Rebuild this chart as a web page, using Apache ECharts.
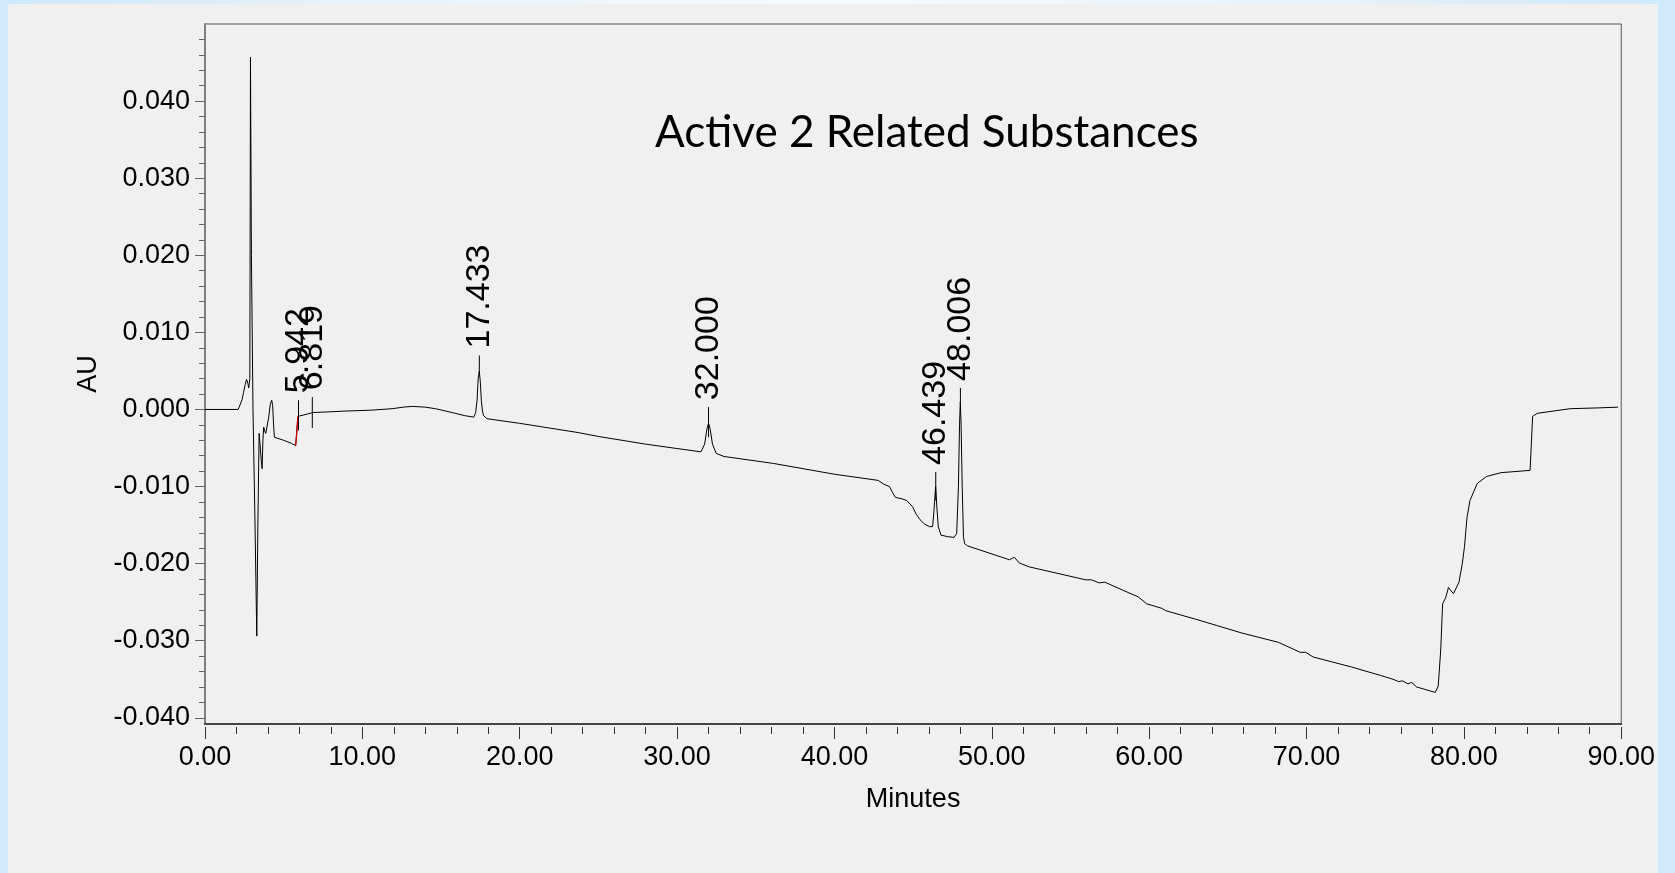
<!DOCTYPE html>
<html>
<head>
<meta charset="utf-8">
<script src="https://cdn.jsdelivr.net/npm/echarts@6/dist/echarts.min.js"></script>
<style>
  html, body { margin: 0; padding: 0; width: 1675px; height: 873px; overflow: hidden; }
  body { background: linear-gradient(to right, #cfe8fb 0%, #e4f2fd 20%, #f6fbff 50%, #e4f2fd 80%, #cfe8fb 100%); }
  #chart { position: absolute; left: 8px; top: 4px; width: 1650px; height: 869px; }
</style>
</head>
<body>
<div id="chart"></div>
<script>
// ---- Data ----
const chartTitle = 'Active 2 Related Substances';
const xAxisName = 'Minutes';
const yAxisName = 'AU';

// Retention time (minutes)
const traceTime = [
  0, 2.1, 2.17, 2.36, 2.45, 2.55, 2.64, 2.72, 2.78, 2.85, 2.89, 2.95, 3.05, 3.18, 3.29,
  3.36, 3.44, 3.5, 3.57, 3.63, 3.68, 3.73, 3.8, 3.86, 3.94, 4.05, 4.15, 4.24, 4.3, 4.36,
  4.41, 4.53, 5.0, 5.5, 5.76, 5.9, 6.0, 6.5, 6.85, 8.0, 9.0, 10.5, 11.9, 12.6, 13.2,
  14.0, 14.65, 15.5, 16.5, 17.08, 17.2, 17.29, 17.36, 17.43, 17.5, 17.56, 17.63, 17.71, 17.92, 20.0,
  23.72, 25.0, 28.0, 31.52, 31.75, 31.9, 32.0, 32.1, 32.25, 32.49, 32.98, 36.12, 40.0, 42.78, 43.14,
  43.5, 43.7, 43.87, 44.3, 44.59, 44.96, 45.2, 45.44, 45.75, 46.05, 46.24, 46.33, 46.43, 46.52, 46.6,
  46.77, 47.2, 47.6, 47.77, 47.88, 47.95, 48.0, 48.05, 48.12, 48.2, 48.27, 48.46, 51.13, 51.3, 51.45,
  51.74, 52.34, 55.97, 56.34, 56.83, 57.18, 58.39, 59.3, 59.84, 60.81, 61.05, 62.94, 64.26, 65.89, 68.21,
  69.6, 69.95, 70.41, 72.85, 74.7, 75.5, 75.86, 76.1, 76.45, 76.67, 77.0, 78.18, 78.37, 78.53, 78.65,
  78.83, 79.02, 79.34, 79.69, 79.9, 80.04, 80.2, 80.39, 80.85, 81.43, 82.36, 84.21, 84.3, 84.37, 84.66,
  86.76, 88.5, 89.8
];
// Absorbance (AU)
const traceAU = [
  0, 0, 0.0003, 0.0013, 0.0022, 0.0032, 0.0039, 0.0034, 0.0028, 0.0040, 0.0457, 0.0200, 0.0000, -0.0150, -0.0294,
  -0.0150, -0.0031, -0.0033, -0.0065, -0.0077, -0.0040, -0.0023, -0.0028, -0.0031, -0.0029, -0.0010, 0.0007, 0.0012, 0.0005, -0.0020,
  -0.0036, -0.0037, -0.0040, -0.0044, -0.0047, -0.0009, -0.0008, -0.0006, -0.0004, -0.0003, -0.0002, -0.0001, 0.0001, 0.0003, 0.0004,
  0.0003, 0.0001, -0.0003, -0.0008, -0.0010, -0.0004, 0.0012, 0.0040, 0.0050, 0.0035, 0.0012, -0.0002, -0.0008, -0.0012, -0.0018,
  -0.0030, -0.0035, -0.0045, -0.0055, -0.0045, -0.0025, -0.0018, -0.0025, -0.0045, -0.0057, -0.0061, -0.0070, -0.0084, -0.0092, -0.0097,
  -0.0100, -0.0108, -0.0114, -0.0116, -0.0118, -0.0126, -0.0136, -0.0143, -0.0149, -0.0152, -0.0152, -0.0130, -0.0100, -0.0130, -0.0152,
  -0.0163, -0.0165, -0.0166, -0.0161, -0.0100, -0.0020, 0.0010, -0.0020, -0.0100, -0.0165, -0.0174, -0.0177, -0.0195, -0.0193, -0.0192,
  -0.0199, -0.0204, -0.0221, -0.0221, -0.0225, -0.0224, -0.0235, -0.0243, -0.0252, -0.0258, -0.0261, -0.0272, -0.0280, -0.0290, -0.0302,
  -0.0315, -0.0315, -0.0321, -0.0334, -0.0345, -0.0350, -0.0353, -0.0352, -0.0356, -0.0354, -0.0360, -0.0367, -0.0359, -0.0312, -0.0252,
  -0.0245, -0.0231, -0.0239, -0.0224, -0.0200, -0.0178, -0.0140, -0.0118, -0.0096, -0.0087, -0.0082, -0.0079, -0.0079, -0.0009, -0.0005,
  0.0001, 0.0002, 0.0003
];

// Integrated segment drawn in red
const redTime = [5.76, 5.84, 5.9];
const redAU = [-0.0047, -0.0030, -0.0009];

// Peak retention-time markers
const peakTimes = [5.942, 6.819, 17.433, 32.000, 46.439, 48.006];
const peakLabels = ['5.942', '6.819', '17.433', '32.000', '46.439', '48.006'];
const peakLineLow = [-0.0027, -0.0024, 0.0050, -0.0036, -0.0118, 0.0010];
const peakLineHigh = [0.0012, 0.0016, 0.0070, 0.0003, -0.0081, 0.0028];

// Axis ticks
const yMajorTicks = [-0.04, -0.03, -0.02, -0.01, 0, 0.01, 0.02, 0.03, 0.04];
const yMin = -0.0408, yMax = 0.05;
const xMin = 0, xMax = 90, xStep = 10;

// ---- Build ----
const lineData = traceTime.map((t, i) => [t, traceAU[i]]);
const redData = redTime.map((t, i) => [t, redAU[i]]);
const peakData = peakTimes.map((t, i) => [t, peakLineLow[i], peakLineHigh[i]]);
const yMinorTicks = [];
for (let k = -20; k <= 24; k++) {
  if (k % 5 !== 0) yMinorTicks.push(Math.round(k * 2) / 1000);
}

const FONT = '"Liberation Sans", Arial, sans-serif';
const chart = echarts.init(document.getElementById('chart'), null, { renderer: 'canvas' });

chart.setOption({
  animation: false,
  backgroundColor: '#f0f0f0',
  title: {
    text: chartTitle,
    left: 642,
    top: 102,
    textStyle: { fontFamily: 'Lato', fontWeight: 'normal', fontSize: 44, color: '#000' }
  },
  grid: {
    left: 197, right: 30, top: 20, bottom: 149,
    show: true, borderColor: '#555', borderWidth: 1, backgroundColor: 'transparent'
  },
  xAxis: [
    {
      type: 'value', min: xMin, max: xMax, interval: xStep, position: 'bottom',
      axisLine: { show: true, onZero: false, lineStyle: { color: '#444', width: 2 } },
      axisTick: { show: false }, axisLabel: { show: false }, splitLine: { show: false },
      name: xAxisName, nameLocation: 'middle', nameGap: 62,
      nameTextStyle: { fontFamily: FONT, fontSize: 27, color: '#000' }
    },
    {
      type: 'value', min: xMin, max: xMax, interval: xStep, position: 'bottom', offset: 3,
      axisLine: { show: false, onZero: false },
      axisTick: { show: true, length: 12, lineStyle: { color: '#333', width: 1 } },
      minorTick: { show: true, splitNumber: 5, length: 7, lineStyle: { color: '#333', width: 1 } },
      splitLine: { show: false }, minorSplitLine: { show: false },
      axisLabel: { margin: 17, fontFamily: FONT, fontSize: 27, color: '#000', formatter: v => v.toFixed(2) }
    }
  ],
  yAxis: [
    {
      type: 'value', min: yMin, max: yMax, position: 'left',
      axisLine: { show: true, onZero: false, lineStyle: { color: '#808080', width: 2 } },
      axisTick: { show: true, length: 10, customValues: yMajorTicks, lineStyle: { color: '#666', width: 1 } },
      axisLabel: { margin: 15, customValues: yMajorTicks, padding: [6, 0, 0, 0], fontFamily: FONT, fontSize: 27, color: '#000', formatter: v => v.toFixed(3) },
      splitLine: { show: false },
      name: yAxisName, nameLocation: 'middle', nameGap: 103, nameRotate: 90,
      nameTextStyle: { fontFamily: FONT, fontSize: 27, color: '#000' }
    },
    {
      type: 'value', min: yMin, max: yMax, position: 'left',
      axisLine: { show: false, onZero: false },
      axisTick: { show: true, length: 6, customValues: yMinorTicks, lineStyle: { color: '#666', width: 1 } },
      axisLabel: { show: false }, splitLine: { show: false }
    }
  ],
  series: [
    {
      type: 'line', xAxisIndex: 0, yAxisIndex: 0, data: lineData, showSymbol: false,
      lineStyle: { color: '#000', width: 1 }, z: 3
    },
    {
      type: 'line', xAxisIndex: 0, yAxisIndex: 0, data: redData, showSymbol: false,
      lineStyle: { color: '#e00000', width: 1.2 }, z: 4
    },
    {
      type: 'custom', xAxisIndex: 0, yAxisIndex: 0, data: peakData, clip: false, z: 5,
      encode: { x: 0, y: [1, 2] },
      renderItem: function (params, api) {
        const t = api.value(0);
        const pLo = api.coord([t, api.value(1)]);
        const pHi = api.coord([t, api.value(2)]);
        return {
          type: 'group',
          children: [
            { type: 'line', shape: { x1: pLo[0], y1: pLo[1], x2: pHi[0], y2: pHi[1] },
              style: { stroke: '#000', lineWidth: 1 } },
            { type: 'text', x: pHi[0], y: pHi[1] - 7, rotation: Math.PI / 2,
              style: { text: peakLabels[params.dataIndex], fontFamily: FONT, fontSize: 34, fill: '#000',
                       align: 'left', verticalAlign: 'middle' } }
          ]
        };
      }
    }
  ]
});
</script>
</body>
</html>
